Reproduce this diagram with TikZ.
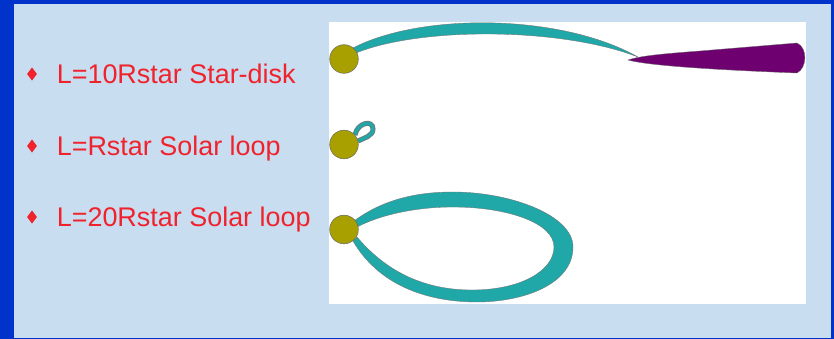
\documentclass[tikz,border=0pt]{standalone}
\usepackage{fontspec}
\setmainfont{Liberation Sans}
\usetikzlibrary{shapes.geometric,positioning}

\definecolor{frameblue}{RGB}{0,51,204}
\definecolor{paleblue}{RGB}{200,221,240}
\definecolor{loopteal}{RGB}{32,168,168}
\definecolor{starolive}{RGB}{168,160,0}
\definecolor{diskpurple}{RGB}{110,0,112}
\definecolor{itemred}{RGB}{240,35,45}

\begin{document}
\begin{tikzpicture}[
    x=0.03cm, y=-0.03cm,
    node distance=0.58cm,
    star/.style={circle, fill=starolive, draw=black!60, thin, minimum size=0.86cm, inner sep=0},
    flux/.style={fill=loopteal, draw=black!55, line width=0.3pt},
    bullet/.style={diamond, fill=itemred, inner sep=0, minimum width=0.3cm, minimum height=0.4cm},
    itemtext/.style={text=itemred, inner sep=0, text height=16.5pt, text depth=0pt,
        font=\fontsize{23}{27}\selectfont}
]
    % slide frame and picture area
    \fill[frameblue] (0,0) rectangle (834,339);
    \fill[paleblue] (14,4) rectangle (831,338);
    \fill[white] (329,22) rectangle (806,304);

    % list on the left
    \node[bullet] (bul1) at (32,74) {};
    \node[bullet] (bul2) at (32,146) {};
    \node[bullet] (bul3) at (32,217) {};
    \node[itemtext, right=of bul1] (item1) {L=10Rstar Star-disk};
    \node[itemtext, right=of bul2] (item2) {L=Rstar Solar loop};
    \node[itemtext, right=of bul3] (item3) {L=20Rstar Solar loop};

    % star-disk field line and disk
    \path[flux] (353,48) .. controls (420,13) and (560,13) .. (638,57)
        .. controls (560,27) and (420,27) .. (356,53) -- cycle;
    \path[fill=diskpurple, draw=black!60, line width=0.3pt] (628,60)
        .. controls (640,56) and (660,54) .. (700,51) -- (797,43)
        .. controls (808,48) and (807,68) .. (797,73)
        .. controls (720,70) and (650,66) .. (628,60) -- cycle;

    % small loop
    \draw[black!55, line width=0.15cm] (355,135) .. controls (357,123) and (373,119) .. (373,129)
        .. controls (373,136) and (364,138) .. (358,141);
    \draw[loopteal, line width=0.1cm] (355,135) .. controls (357,123) and (373,119) .. (373,129)
        .. controls (373,136) and (364,138) .. (358,141);

    % large loop
    \path[flux] (354,221) .. controls (385,198) and (420,192) .. (453,192)
        .. controls (510,192) and (573,215) .. (573,247)
        .. controls (573,285) and (522,302) .. (477,302)
        .. controls (425,302) and (378,284) .. (353,241)
        -- (357,237)
        .. controls (390,276) and (430,290) .. (472,290)
        .. controls (522,290) and (554,270) .. (554,247)
        .. controls (554,222) and (505,207) .. (453,207)
        .. controls (415,207) and (380,215) .. (357,227) -- cycle;

    % stars
    \node[star] (star1) at (344,59) {};
    \node[star] (star2) at (344,144.5) {};
    \node[star] (star3) at (344,229.5) {};
\end{tikzpicture}
\end{document}
